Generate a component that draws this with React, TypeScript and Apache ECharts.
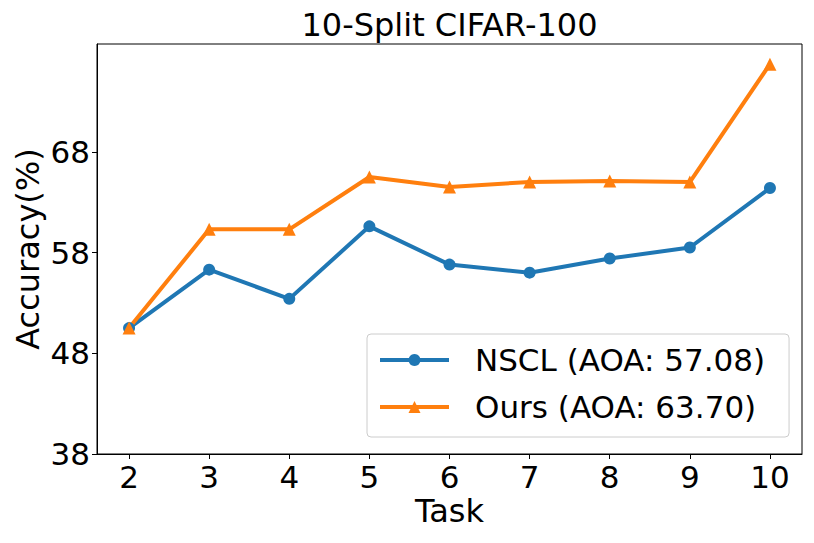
import React, { useEffect, useRef } from "react";
import * as echarts from "echarts";

const tasks = [2, 3, 4, 5, 6, 7, 8, 9, 10];
const nsclValues = [50.5, 56.3, 53.4, 60.6, 56.8, 56.0, 57.4, 58.5, 64.4];
const oursValues = [50.5, 60.3, 60.3, 65.5, 64.5, 65.0, 65.1, 65.0, 76.7];
const yTicks = [38, 48, 58, 68];
const seriesNames = ["NSCL (AOA: 57.08)", "Ours (AOA: 63.70)"];
const titleText = "10-Split CIFAR-100";
const xName = "Task";
const yName = "Accuracy(%)";

const FONT = "DejaVu Sans";
const FS = 31;
const FS_BIG = 32;

export default function App() {
  const ref = useRef<HTMLDivElement>(null);
  useEffect(() => {
    if (!ref.current) return;
    const chart = echarts.init(ref.current, undefined, { renderer: "svg" });
    const gridLeft = 97, gridTop = 44, gridW = 705, gridH = 410;
    chart.setOption({
      animation: false,
      backgroundColor: "#ffffff",
      grid: {
        left: gridLeft, top: gridTop, width: gridW, height: gridH,
        show: true, borderColor: "#000", borderWidth: 1, backgroundColor: "transparent",
      },
      graphic: [
        {
          type: "text", x: gridLeft + gridW / 2, y: 25,
          style: { text: titleText, font: `${FS_BIG}px ${FONT}`, fill: "#000", textAlign: "center", textVerticalAlign: "middle" },
        },
        {
          type: "text", x: gridLeft + gridW / 2, y: 511,
          style: { text: xName, font: `${FS_BIG}px ${FONT}`, fill: "#000", textAlign: "center", textVerticalAlign: "middle" },
        },
        {
          type: "text", x: 28, y: gridTop + gridH / 2, rotation: Math.PI / 2,
          style: { text: yName, font: `${FS_BIG}px ${FONT}`, fill: "#000", textAlign: "center", textVerticalAlign: "middle" },
        },
      ],
      legend: {
        orient: "vertical",
        left: 367, top: 334,
        padding: [8, 24, 12, 11],
        itemGap: 11,
        itemWidth: 69,
        itemHeight: 15,
        backgroundColor: "rgba(255,255,255,0.8)",
        borderColor: "#cccccc",
        borderWidth: 1,
        borderRadius: 4,
        lineStyle: { width: 4 },
        textStyle: { fontFamily: FONT, fontSize: FS, color: "#000", lineHeight: 36, padding: [0, 0, 0, 21] },
        data: seriesNames,
      },
      xAxis: {
        type: "value", min: 1.6, max: 10.4,
        splitLine: { show: false },
        axisLine: { show: true, onZero: false, lineStyle: { color: "#000", width: 1 } },
        axisTick: { show: true, length: 5, lineStyle: { color: "#000", width: 1 }, customValues: tasks },
        axisLabel: { customValues: tasks, fontFamily: FONT, fontSize: FS, color: "#000", margin: 7 },
      },
      yAxis: {
        type: "value", min: 38, max: 78.7,
        splitLine: { show: false },
        axisLine: { show: true, onZero: false, lineStyle: { color: "#000", width: 1 } },
        axisTick: { show: true, length: 5, lineStyle: { color: "#000", width: 1 }, customValues: yTicks },
        axisLabel: { customValues: yTicks, fontFamily: FONT, fontSize: FS, color: "#000", margin: 7 },
      },
      series: [
        {
          name: seriesNames[0], type: "line",
          data: tasks.map((t, i) => [t, nsclValues[i]]),
          symbol: "circle", symbolSize: 12,
          lineStyle: { color: "#1f77b4", width: 4 },
          itemStyle: { color: "#1f77b4" },
        },
        {
          name: seriesNames[1], type: "line",
          data: tasks.map((t, i) => [t, oursValues[i]]),
          symbol: "triangle", symbolSize: 13,
          lineStyle: { color: "#ff7f0e", width: 4 },
          itemStyle: { color: "#ff7f0e" },
        },
      ],
    });
    return () => chart.dispose();
  }, []);
  return <div ref={ref} style={{ position: "fixed", left: 0, top: 0, width: 814, height: 543, background: "#fff" }} />;
}
